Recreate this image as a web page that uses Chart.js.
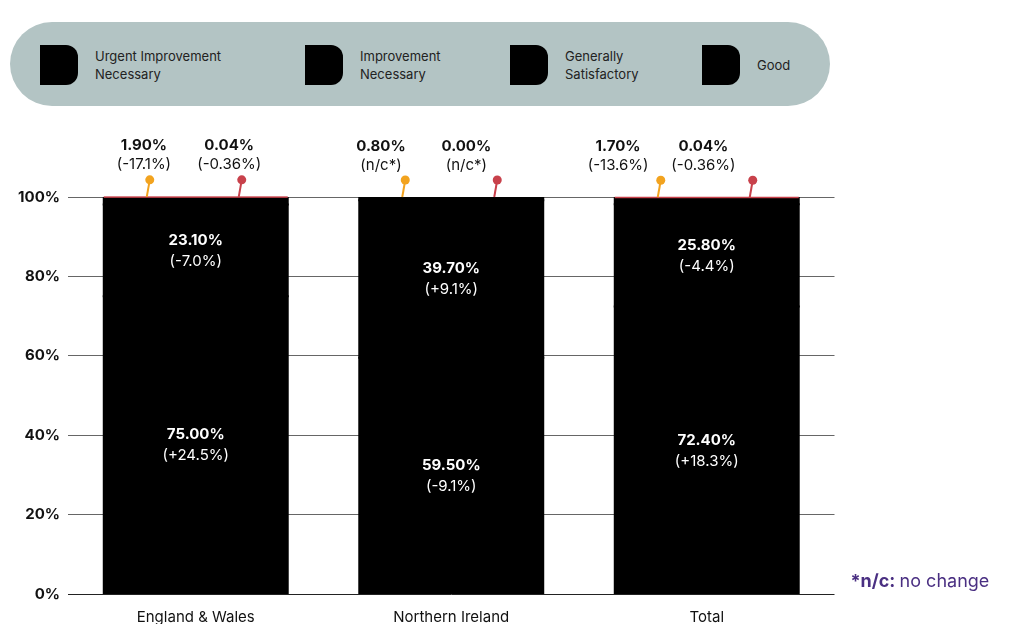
<!DOCTYPE html>
<html>
<head>
<meta charset="utf-8">
<title>Inspection grades</title>
<script src="https://cdn.jsdelivr.net/npm/chart.js@4.4.0/dist/chart.umd.min.js"></script>
<style>
  body { margin: 0; background: #fff; font-family: Inter, 'DejaVu Sans', sans-serif; }
  #wrap { position: relative; width: 1018px; height: 624px; overflow: hidden; }
  #grafico { position: absolute; left: 0; top: 0; }
  #legenda { position: absolute; left: 10px; top: 22px; width: 820px; height: 84px; background: #b3c4c4; border-radius: 42px; }
  .item { position: absolute; top: 23px; height: 40px; display: flex; align-items: center; }
  .icone { width: 38px; height: 40px; background: #000; border-radius: 0 12px 12px 0; flex: none; }
  .texto { margin-left: 17px; font-size: 13px; line-height: 18px; color: #222; }
</style>
</head>
<body>
<div id="wrap">
  <canvas id="grafico" width="1018" height="624"></canvas>
  <div id="legenda"></div>
</div>
<script>
// Dados
const categorias = ['England & Wales', 'Northern Ireland', 'Total'];
const serieGood = [75.0, 59.5, 72.4];
const serieGenerally = [23.1, 39.7, 25.8];
const serieImprovement = [1.9, 0.8, 1.7];
const serieUrgent = [0.04, 0.0, 0.04];
const variacaoGood = ['(+24.5%)', '(-9.1%)', '(+18.3%)'];
const variacaoGenerally = ['(-7.0%)', '(+9.1%)', '(-4.4%)'];
const variacaoImprovement = ['(-17.1%)', '(n/c*)', '(-13.6%)'];
const variacaoUrgent = ['(-0.36%)', '(n/c*)', '(-0.36%)'];
const ticksY = [0, 20, 40, 60, 80, 100];
const legendaNomes = [['Urgent Improvement', 'Necessary'], ['Improvement', 'Necessary'], ['Generally', 'Satisfactory'], ['Good']];

// Legenda em HTML
const posLegenda = [30, 295, 500, 692];
const legendaDiv = document.getElementById('legenda');
legendaNomes.forEach((linhas, i) => {
  const item = document.createElement('div');
  item.className = 'item';
  item.style.left = posLegenda[i] + 'px';
  item.innerHTML = `<div class="icone"></div><div class="texto">${linhas.join('<br>')}</div>`;
  legendaDiv.appendChild(item);
});

const FONTE = "Inter, 'DejaVu Sans', sans-serif";
const fmt = v => v.toFixed(2) + '%';

// Rotulos, pinos e nota
const rotulosPlugin = {
  id: 'rotulos',
  afterDatasetsDraw(chart) {
    const ctx = chart.ctx;
    const area = chart.chartArea;
    const metas = [0, 1, 2, 3].map(i => chart.getDatasetMeta(i));
    ctx.save();
    ctx.textAlign = 'center';
    ctx.textBaseline = 'middle';

    // rotulos internos (Good e Generally)
    [[serieGood, variacaoGood], [serieGenerally, variacaoGenerally]].forEach(([vals, vars], d) => {
      metas[d].data.forEach((bar, i) => {
        const meio = (bar.y + bar.base) / 2;
        ctx.fillStyle = '#fff';
        ctx.font = 'bold 15px ' + FONTE;
        ctx.fillText(fmt(vals[i]), bar.x, meio - 10);
        ctx.font = '15px ' + FONTE;
        ctx.fillText(vars[i], bar.x, meio + 11);
      });
    });

    // pinos no topo
    const pinos = [
      { vals: serieImprovement, vars: variacaoImprovement, cor: '#f2a31f', lado: -1 },
      { vals: serieUrgent, vars: variacaoUrgent, cor: '#c8414b', lado: 1 }
    ];
    metas[0].data.forEach((bar, i) => {
      const topo = Math.min(...metas.map(m => m.data[i].y));
      // linha fina vermelha no topo (Urgent)
      if (serieUrgent[i] > 0) {
        ctx.fillStyle = '#c8414b';
        ctx.fillRect(bar.x - bar.width / 2, topo - 0.5, bar.width, 1.5);
      }
      pinos.forEach(p => {
        const px = bar.x + p.lado * bar.width / 4;
        ctx.strokeStyle = p.cor;
        ctx.fillStyle = p.cor;
        ctx.lineWidth = 2;
        ctx.beginPath();
        ctx.moveTo(px - 3, topo);
        ctx.lineTo(px, topo - 17);
        ctx.stroke();
        ctx.beginPath();
        ctx.arc(px, topo - 17, 4.5, 0, Math.PI * 2);
        ctx.fill();
        const lx = area.left + (px - area.left) * 0.928;
        ctx.fillStyle = '#111';
        ctx.font = 'bold 15px ' + FONTE;
        ctx.fillText(fmt(p.vals[i]), lx, topo - 51);
        ctx.font = '15px ' + FONTE;
        ctx.fillText(p.vars[i], lx, topo - 32);
      });
    });

    // nota n/c
    ctx.textAlign = 'left';
    ctx.fillStyle = '#4a2f82';
    ctx.font = 'bold 18px ' + FONTE;
    const nx = area.right + 16;
    const ny = area.bottom - 12;
    ctx.fillText('*n/c:', nx, ny);
    const w = ctx.measureText('*n/c: ').width;
    ctx.font = '18px ' + FONTE;
    ctx.fillText('no change', nx + w, ny);
    ctx.restore();
  }
};

const ctxGrafico = document.getElementById('grafico').getContext('2d');
new Chart(ctxGrafico, {
  type: 'bar',
  data: {
    labels: categorias,
    datasets: [
      { label: 'Good', data: serieGood, backgroundColor: '#000', inflateAmount: 1 },
      { label: 'Generally Satisfactory', data: serieGenerally, backgroundColor: '#000', inflateAmount: 1 },
      { label: 'Improvement Necessary', data: serieImprovement, backgroundColor: '#000', inflateAmount: 1 },
      { label: 'Urgent Improvement Necessary', data: serieUrgent, backgroundColor: '#c8414b' }
    ]
  },
  options: {
    responsive: false,
    animation: false,
    layout: { padding: { top: 197, right: 183.5, bottom: 0, left: 0 } },
    datasets: { bar: { barPercentage: 0.9, categoryPercentage: 0.8, borderWidth: 0 } },
    plugins: { legend: { display: false }, tooltip: { enabled: false } },
    scales: {
      x: {
        stacked: true,
        grid: { display: false },
        border: { display: false },
        ticks: { color: '#111', padding: 6, font: { family: FONTE, size: 15 } },
        afterFit: s => { s.height = 30; }
      },
      y: {
        stacked: true,
        min: 0,
        max: 100,
        afterBuildTicks: s => { s.ticks = ticksY.map(v => ({ value: v })); },
        afterFit: s => { s.width = 68; },
        border: { display: false },
        grid: {
          drawTicks: false,
          color: c => c.tick && c.tick.value === 0 ? '#222' : '#666',
          lineWidth: 1
        },
        ticks: {
          color: '#111',
          padding: 8,
          font: { family: FONTE, size: 15, weight: 'bold' },
          callback: v => v + '%'
        }
      }
    }
  },
  plugins: [rotulosPlugin]
});
</script>
</body>
</html>
